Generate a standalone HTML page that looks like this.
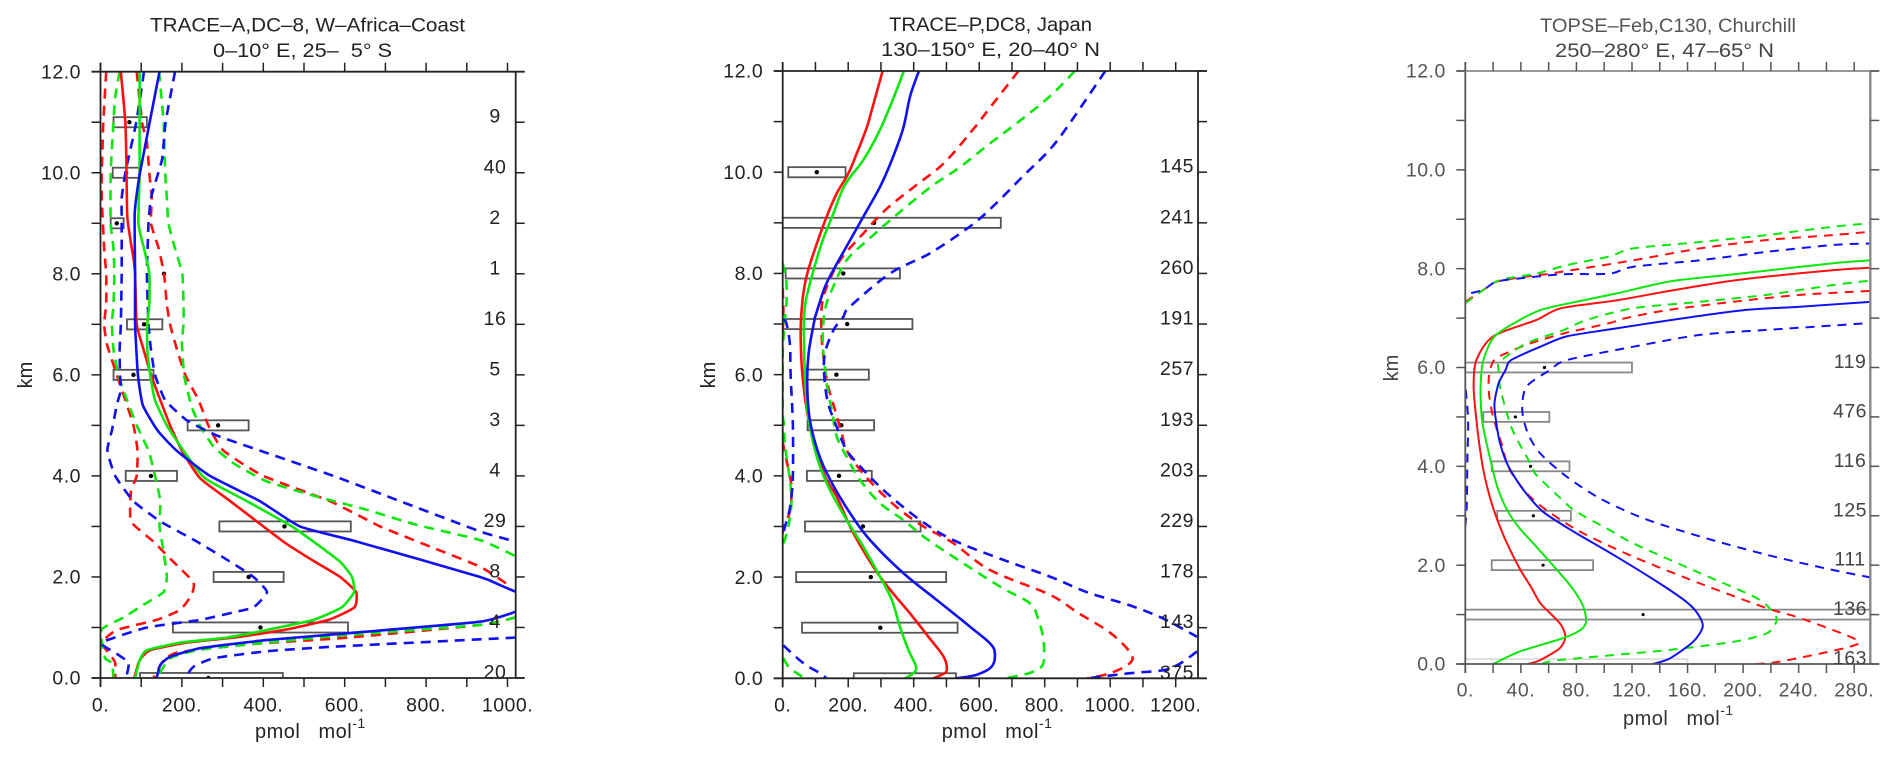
<!DOCTYPE html>
<html lang="en">
<head>
<meta charset="utf-8">
<title>Vertical profiles, pmol mol-1</title>
<style>
html,body{margin:0;padding:0;background:#fff;width:1897px;height:762px;overflow:hidden}
svg{display:block;filter:blur(0.35px)}
text{font-family:"Liberation Sans",sans-serif}
</style>
</head>
<body>
<svg id="chart" xmlns="http://www.w3.org/2000/svg" width="1897" height="762" viewBox="0 0 1897 762">
  <rect width="1897" height="762" fill="#fff"/>

  <g id="panel-1">
    <text x="150" y="31.7" font-size="19" fill="#222" textLength="315" lengthAdjust="spacingAndGlyphs">TRACE–A,DC–8, W–Africa–Coast</text>
    <text x="213" y="57" font-size="19" fill="#222" textLength="179" lengthAdjust="spacingAndGlyphs" xml:space="preserve">0–10° E, 25–  5° S</text>
    <text transform="translate(32 375) rotate(-90)" text-anchor="middle" font-size="20" fill="#222">km</text>
    <text x="255" y="738" font-size="20" letter-spacing="0.5" fill="#222">pmol&#160;&#160;&#160;mol<tspan dy="-10" font-size="14">-1</tspan></text>
  </g>

  <g id="panel-2">
    <text x="889" y="31" font-size="19" fill="#222" textLength="203" lengthAdjust="spacingAndGlyphs">TRACE–P,DC8, Japan</text>
    <text x="881" y="56" font-size="19" fill="#222" textLength="219" lengthAdjust="spacingAndGlyphs">130–150° E, 20–40° N</text>
    <text transform="translate(715 375) rotate(-90)" text-anchor="middle" font-size="20" fill="#222">km</text>
    <text x="941.7" y="738" font-size="20" letter-spacing="0.5" fill="#222">pmol&#160;&#160;&#160;mol<tspan dy="-10" font-size="14">-1</tspan></text>
  </g>

  <g id="panel-3">
    <text x="1540" y="32" font-size="19" fill="#555" textLength="256" lengthAdjust="spacingAndGlyphs">TOPSE–Feb,C130, Churchill</text>
    <text x="1555" y="57" font-size="19" fill="#444" textLength="219" lengthAdjust="spacingAndGlyphs">250–280° E, 47–65° N</text>
    <text transform="translate(1398 368) rotate(-90)" text-anchor="middle" font-size="20" fill="#444">km</text>
    <text x="1623" y="725" font-size="20" letter-spacing="0.5" fill="#333">pmol&#160;&#160;&#160;mol<tspan dy="-10" font-size="14">-1</tspan></text>
  </g>
</svg>

<script>
// ---------- shared tick labels ----------
const yTickKm = [0,1,2,3,4,5,6,7,8,9,10,11,12];
const yLabelKm = [0,2,4,6,8,10,12];

// ---------- Panel 1: TRACE-A ----------
const p1XTicks = [0,100,200,300,400,500,600,700,800,900,1000];
const p1XLabels = [0,200,400,600,800,1000];
const p1CountKm = [11,10,9,8,7,6,5,4,3,2,1,0];
const p1Counts = [9,40,2,1,16,5,3,4,29,8,4,20];
const p1BoxKm = [11,10,9,8,7,6,5,4,3,2,1,0];
const p1BoxLow = [32,30,25,156,65,32,214,62,292,278,178,97];
const p1BoxHigh = [114,95,57,156,152,130,364,188,615,450,608,448];
const p1BoxMean = [71,63,40,156,107,81,289,124,452,364,393,265];
const p1RedLow = [[12,14],[11,7],[10,3],[9.5,3],[9,6],[8.5,9],[8,14],[7.4,14],[7,9],[6.6,16],[6,40],[5.5,61],[5,81],[4.5,91],[4,89],[3.7,75],[3.1,75],[2.7,130],[2.3,179],[1.9,228],[1.65,224],[1.35,196],[1.15,138],[0.95,40],[0.7,3],[0.5,20],[0.3,36],[0,36]];
const p1RedMid = [[12,50],[11,61],[10,64],[9.1,66],[8.3,81],[8,85],[7,89],[6.5,106],[6,124],[5.5,147],[5,171],[4.5,200],[3.95,245],[3.5,319],[3,400],[2.65,458],[2.3,527],[2,589],[1.7,628],[1.4,624],[1.15,560],[0.95,450],[0.8,327],[0.7,212],[0.55,122],[0.35,96],[0,83]];
const p1RedHigh = [[12,89],[11,102],[10.6,114],[10,120],[9.5,126],[9,124],[8.5,143],[8,156],[7.4,163],[7,171],[6.5,188],[6,208],[5.5,241],[5,265],[4.5,302],[4,400],[3.5,564],[3,687],[2.6,810],[2.2,933],[1.82,1006]];
const p1RedHighLower = [[1.2,1020],[1.05,933],[0.8,609],[0.65,330],[0.5,188],[0.35,155],[0,130]];
const p1GreenLow = [[12,47],[11.5,36],[11,32],[10,25],[9,25],[8.5,32],[8,34],[7.4,32],[7,28],[6.5,32],[6,44],[5.5,65],[5,89],[4.5,118],[4,134],[3.5,147],[3,145],[2.5,155],[2,163],[1.7,155],[1.45,106],[1.2,57],[0.95,2],[0.4,11],[0.3,28],[0,32]];
const p1GreenMid = [[12,96],[10,96],[9,93],[8.5,107],[8,120],[7.4,120],[7,115],[6.5,115],[6,122],[5.5,134],[5,163],[4.5,204],[3.95,257],[3.5,360],[3,470],[2.6,540],[2.3,589],[2,618],[1.7,623],[1.4,593],[1.15,523],[0.95,409],[0.8,310],[0.7,196],[0.55,114],[0.35,96],[0,85]];
const p1GreenHigh = [[12,144],[11,155],[10,159],[9.5,163],[9,167],[8.5,183],[8,201],[7.4,204],[7,204],[6.63,200],[5.97,206],[5.37,224],[4.98,245],[4.58,278],[4.25,327],[3.89,409],[3.59,532],[3.33,654],[3.03,777],[2.73,933],[2.41,1020]];
const p1GreenHighLower = [[1.2,1020],[1.05,933],[0.85,605],[0.7,409],[0.56,245],[0.39,171],[0,138]];
const p1BlueLow = [[12,107],[11,88],[10.3,69],[10,61],[9.5,52],[9,52],[8,52],[7,50],[6.5,47],[6,48],[5.7,50],[5.4,40],[4.9,28],[4.5,17],[4,36],[3.5,81],[3.1,147],[2.7,237],[2.3,319],[2,376],[1.7,409],[1.4,376],[1.3,327],[1.15,245],[1,114],[0.7,3],[0.5,36],[0.3,69],[0,63]];
const p1BlueMid = [[12,145],[10,97],[9.2,84],[8,85],[7,85],[6,92],[5.4,104],[4.9,140],[4.5,187],[4,269],[3.5,392],[3,490],[2.7,630],[2,933],[1.84,981],[1.71,1020]];
const p1BlueMidLower = [[1.31,1020],[1.115,933],[0.885,605],[0.75,408],[0.59,245],[0.42,171],[0.26,147],[0,138]];
const p1BlueHigh = [[12,183],[11,160],[10.3,152],[10,142],[9.5,124],[9,118],[8,114],[7,118],[6.5,124],[6,134],[5.5,159],[5.1,212],[4.8,286],[4.5,392],[4,572],[3.5,736],[2.9,933],[2.73,1006]];
const p1BlueHighLower = [[0.8,1020],[0.765,933],[0.62,572],[0.53,409],[0.39,278],[0.22,228],[0,208]];

// ---------- Panel 2: TRACE-P ----------
const p2XTicks = [0,100,200,300,400,500,600,700,800,900,1000,1100,1200];
const p2XLabels = [0,200,400,600,800,1000,1200];
const p2CountKm = [10,9,8,7,6,5,4,3,2,1,0];
const p2Counts = [145,241,260,191,257,193,203,229,178,143,375];
const p2BoxKm = [10,9,8,7,6,5,4,3,2,1,0];
const p2BoxLow = [17,-5,9,-5,68,76,74,68,41,59,217];
const p2BoxHigh = [192,666,358,396,263,279,272,421,499,534,529];
const p2BoxMean = [104,279,185,197,164,179,172,245,269,298,null];
const p2RedLow = [[7.7,0],[7.1,2],[6.5,-3],[5,-3],[4.6,2],[4,22],[3.7,27],[3.3,22],[2.95,2],[2.7,-3]];
const p2RedMid = [[12,305],[11.23,272],[10.87,256],[10.37,226],[9.97,200],[9.58,165],[9.12,134],[8.49,99],[8,75],[7.6,63],[7.1,56],[6.69,55],[6,60],[5.24,75],[4.71,94],[3.99,129],[3.59,165],[2.87,216],[2.01,297],[1.28,389],[0.82,445],[0.43,491],[0.16,501],[0.07,485],[0,460]];
const p2RedHigh = [[12,720],[11.36,643],[10.77,572],[10.17,491],[9.75,409],[9.28,318],[8.79,246],[8.26,175],[7.73,134],[7.34,119],[6.75,119],[6.22,127],[5.76,139],[5.3,160],[4.84,180],[4.51,195],[4.12,236],[3.72,292],[3.33,358],[3,430],[2.67,521],[2.14,633],[1.65,816],[1.3,900],[0.9,1000],[0.5,1062],[0.3,1060],[0.1,1000],[0,930]];
const p2GreenLow = [[8.2,0],[7.9,10],[7.5,12],[7.1,7],[6.7,2],[6.4,0],[5.3,0],[5,4],[4.6,7],[4,20],[3.5,27],[3,17],[2.6,0]];
const p2GreenLowBottom = [[0.4,2],[0.2,22],[0,68]];
const p2GreenMid = [[12,370],[11.3,328],[10.77,292],[10.24,246],[9.75,190],[9.19,155],[8.6,119],[7.94,89],[7.48,71],[7.1,65],[6.69,65],[5.96,68],[5.17,78],[4.38,104],[3.79,139],[3.13,195],[2.6,246],[2.01,297],[1.55,333],[1.02,358],[0.56,384],[0.23,407],[0.1,399],[0,374]];
const p2GreenHigh = [[12,892],[11.5,816],[10.97,715],[10.57,633],[10.1,541],[9.7,450],[9.1,337],[8.7,267],[8.26,195],[7.67,150],[7.28,129],[6.69,122],[6.29,127],[5.83,134],[5.3,150],[4.78,165],[4.38,195],[3.92,236],[3.46,297],[3.13,368],[2.8,430],[2.4,521],[1.81,664],[1.48,755],[1.15,781],[0.76,796],[0.3,796],[0.13,765],[0.03,704],[0,674]];
const p2BlueLow = [[7.1,4],[7,12],[6.6,22],[6,24],[5,31],[4,31],[3.6,27],[3.3,20],[3,7],[2.8,0]];
const p2BlueLowBottom = [[0.65,2],[0.3,63],[0.1,114],[0,134]];
const p2BlueMid = [[12,416],[11.5,389],[10.87,368],[10.24,333],[9.71,297],[9.12,246],[8.66,206],[8.13,160],[7.73,129],[7.14,99],[7.08,97],[6.42,79],[5.76,75],[5.1,83],[4.45,109],[3.92,145],[3.26,206],[2.73,267],[2.08,368],[1.55,470],[1.02,572],[0.69,633],[0.49,648],[0.23,638],[0.07,592],[0,531]];
const p2BlueHigh = [[12,985],[11,880],[10.45,816],[9.93,735],[9.33,643],[8.93,572],[8.4,450],[8,328],[7.34,205],[7.14,185],[6.88,155],[6.42,129],[5.96,127],[5.43,139],[4.97,165],[4.51,195],[4.12,246],[3.66,318],[3.13,419],[2.73,521],[2.34,674],[2.01,816],[1.7,930],[1.44,1060],[1.18,1162],[0.82,1265]];
const p2BlueHighLower = [[0.53,1265],[0.29,1213],[0.16,1162],[0.1,1060],[0,930]];

// ---------- Panel 3: TOPSE ----------
const p3XTicks = [0,20,40,60,80,100,120,140,160,180,200,220,240,260,280];
const p3XLabels = [0,40,80,120,160,200,240,280];
const p3CountKm = [6,5,4,3,2,1,0];
const p3Counts = [119,476,116,125,111,136,163];
const p3BoxKm = [6,5,4,3,2,1,0];
const p3BoxLow = [-5,13,19,23,19,-5,-5];
const p3BoxHigh = [120,60.5,75,76,92,300,160];
const p3BoxMean = [57,36,47,49,56,128,null];
const p3RedLow = [[7.33,0],[7.57,13],[7.74,23],[7.87,51],[7.9,61],[8.17,121],[8.41,169],[8.58,217],[8.68,265],[8.75,292]];
const p3RedMid = [[0,45],[0.08,54],[0.32,68],[0.55,72],[0.79,69],[1.03,61],[1.23,54],[1.57,47],[1.94,39],[2.44,30],[2.85,24],[3.25,19],[3.79,14],[4.26,11],[4.94,8],[5.61,6],[6.15,8],[6.63,20],[6.96,51],[7.2,69],[7.36,109],[7.55,147],[7.74,188],[7.84,217],[7.97,265],[8.02,292]];
const p3RedHigh = [[0,209],[0.05,227],[0.35,277],[0.5,281],[0.93,241],[1.13,217],[1.63,169],[2.17,121],[2.72,80],[3.32,49],[3.93,32],[4.47,26],[5,20],[5.48,17],[5.82,17],[6.12,20],[6.26,27],[6.49,47],[6.69,71],[6.9,104],[6.99,114],[7.16,145],[7.33,193],[7.47,241],[7.55,292]];
const p3GreenLow = [[7.3,0],[7.57,13],[7.77,25],[7.9,51],[8.07,73],[8.25,104],[8.41,121],[8.54,169],[8.68,217],[8.85,265],[8.92,292]];
const p3GreenMid = [[0,20],[0.25,39],[0.52,70],[0.69,83],[0.86,87],[1.16,85],[1.5,78],[1.84,68],[2.38,51],[2.75,39],[3.12,30],[3.59,23],[4.26,17],[4.94,12],[5.61,11],[6.15,13],[6.63,21],[6.96,39],[7.16,54],[7.26,68],[7.5,109],[7.74,147],[7.87,188],[7.96,217],[8.11,265],[8.17,292]];
const p3GreenHigh = [[0,55],[0.08,68],[0.28,145],[0.45,193],[0.62,217],[0.86,224],[1.03,222],[1.33,210],[1.84,169],[2.44,121],[2.71,104],[3.08,80],[3.29,71],[3.83,51],[4,48],[4.67,35],[5.07,30],[5.61,25],[5.95,24],[6.12,25],[6.49,44],[6.76,71],[6.96,87],[7.2,121],[7.33,169],[7.47,217],[7.67,265],[7.76,292]];
const p3BlueLow = [[2.78,0],[3.18,1],[4.13,1.5],[4.94,2],[5.65,0],[6.5,-3],[7.3,-3],[7.47,0],[7.57,13],[7.74,23],[7.84,51],[7.89,73],[7.9,104],[8.04,121],[8.17,169],[8.34,217],[8.48,265],[8.51,292]];
const p3BlueMid = [[0,135],[0.11,147],[0.45,164],[0.76,171],[1.03,167],[1.26,159],[1.63,140],[2.17,109],[2.68,78],[3.08,56],[3.52,42],[4,31],[4.47,25],[4.94,22],[5.28,21],[5.68,24],[5.95,29],[6.15,33],[6.42,54],[6.63,73],[6.77,104],[6.99,155],[7.16,200],[7.23,241],[7.33,292]];
const p3BlueHigh = [[1.75,292],[1.9,265],[2.21,217],[2.58,169],[2.95,128],[3.35,97],[3.79,73],[4.26,54],[4.67,45],[5.14,41],[5.61,44],[5.95,61],[6.15,73],[6.42,121],[6.66,169],[6.76,217],[6.9,292]];

// ---------- panel layout (geometry + references to the data) ----------
const RED = '#ff1010', GREEN = '#0ee60e', BLUE = '#1010f0';
const panels = [
  {id:'panel-1', left:100.5, right:515.7, top:71.7, bottom:678, pxPerUnit:0.407,
   xTicks:p1XTicks, xLabels:p1XLabels, labelY:711.7, countKm:p1CountKm, counts:p1Counts, countX:495,
   boxKm:p1BoxKm, boxLow:p1BoxLow, boxHigh:p1BoxHigh, boxMean:p1BoxMean,
   axisColor:'#222', edgeColor:'#222', boxColor:'#555', textColor:'#222', lineWidth:2.6, dash:'10 7', smooth:0.5,
   series:[
    ['red-low',RED,1,p1RedLow],['red-high',RED,1,p1RedHigh],['red-high-lower',RED,1,p1RedHighLower],
    ['green-low',GREEN,1,p1GreenLow],['green-high',GREEN,1,p1GreenHigh],['green-high-lower',GREEN,1,p1GreenHighLower],
    ['blue-low',BLUE,1,p1BlueLow],['blue-high',BLUE,1,p1BlueHigh],['blue-high-lower',BLUE,1,p1BlueHighLower],
    ['red-median',RED,0,p1RedMid],['green-median',GREEN,0,p1GreenMid],['blue-median',BLUE,0,p1BlueMid],['blue-median-lower',BLUE,0,p1BlueMidLower]]},
  {id:'panel-2', left:782.7, right:1198, top:71, bottom:678.3, pxPerUnit:0.3275,
   xTicks:p2XTicks, xLabels:p2XLabels, labelY:711.7, countKm:p2CountKm, counts:p2Counts, countX:1177,
   boxKm:p2BoxKm, boxLow:p2BoxLow, boxHigh:p2BoxHigh, boxMean:p2BoxMean,
   axisColor:'#222', edgeColor:'#222', boxColor:'#555', textColor:'#222', lineWidth:2.6, dash:'10 7', smooth:1,
   series:[
    ['red-low',RED,1,p2RedLow],['red-high',RED,1,p2RedHigh],
    ['green-low',GREEN,1,p2GreenLow],['green-low-bottom',GREEN,1,p2GreenLowBottom],['green-high',GREEN,1,p2GreenHigh],
    ['blue-low',BLUE,1,p2BlueLow],['blue-low-bottom',BLUE,1,p2BlueLowBottom],['blue-high',BLUE,1,p2BlueHigh],['blue-high-lower',BLUE,1,p2BlueHighLower],
    ['red-median',RED,0,p2RedMid],['green-median',GREEN,0,p2GreenMid],['blue-median',BLUE,0,p2BlueMid]]},
  {id:'panel-3', left:1465.3, right:1870.3, top:71, bottom:664, pxPerUnit:1.389,
   xTicks:p3XTicks, xLabels:p3XLabels, labelY:696.7, countKm:p3CountKm, counts:p3Counts, countX:1850,
   boxKm:p3BoxKm, boxLow:p3BoxLow, boxHigh:p3BoxHigh, boxMean:p3BoxMean,
   axisColor:'#555', edgeColor:'#888', boxColor:'#888', textColor:'#555', lineWidth:2, dash:'9 7', smooth:0.8,
   series:[
    ['red-low',RED,1,p3RedLow],['red-high',RED,1,p3RedHigh],
    ['green-low',GREEN,1,p3GreenLow],['green-high',GREEN,1,p3GreenHigh],
    ['blue-low',BLUE,1,p3BlueLow],['blue-high',BLUE,1,p3BlueHigh],
    ['red-median',RED,0,p3RedMid],['green-median',GREEN,0,p3GreenMid],['blue-median',BLUE,0,p3BlueMid]]}
];

const SVGNS = 'http://www.w3.org/2000/svg';
const TICK = 9;

function drawLine(parent, x1, y1, x2, y2, color, width, name) {
  const el = document.createElementNS(SVGNS, 'line');
  
  
  el.setAttribute('x1', x1);
  el.setAttribute('y1', y1);
  el.setAttribute('x2', x2);
  el.setAttribute('y2', y2);
  el.setAttribute('stroke', color);
  el.setAttribute('stroke-width', width);
  parent.appendChild(el);
}

function drawLabel(parent, x, y, anchor, color, str, name) {
  const el = document.createElementNS(SVGNS, 'text');
  
  
  el.setAttribute('x', x);
  el.setAttribute('y', y);
  el.setAttribute('text-anchor', anchor);
  el.setAttribute('font-size', '19.5');
  el.setAttribute('letter-spacing', '0.5');
  el.setAttribute('fill', color);
  el.textContent = str;
  parent.appendChild(el);
}

// Catmull-Rom path through screen points; k scales the tangent strength.
function curvePath(pts, k) {
  let d = 'M' + pts[0][0].toFixed(1) + ' ' + pts[0][1].toFixed(1);
  for (let i = 0; i < pts.length - 1; i++) {
    const p0 = pts[Math.max(i - 1, 0)];
    const p1 = pts[i];
    const p2 = pts[i + 1];
    const p3 = pts[Math.min(i + 2, pts.length - 1)];
    const c1x = p1[0] + (p2[0] - p0[0]) * k / 6;
    const c1y = p1[1] + (p2[1] - p0[1]) * k / 6;
    const c2x = p2[0] - (p3[0] - p1[0]) * k / 6;
    const c2y = p2[1] - (p3[1] - p1[1]) * k / 6;
    d += 'C' + c1x.toFixed(1) + ' ' + c1y.toFixed(1) + ' ' + c2x.toFixed(1) + ' ' + c2y.toFixed(1) + ' ' + p2[0].toFixed(1) + ' ' + p2[1].toFixed(1);
  }
  return d;
}

panels.forEach(function (p, index) {
  const g = document.getElementById(p.id);
  const xScale = function (v) { return p.left + v * p.pxPerUnit; };
  const yScale = function (km) { return p.bottom - km * (p.bottom - p.top) / 12; };

  // clip for plot area
  const clipId = 'clip-' + index;
  const defs = document.createElementNS(SVGNS, 'defs');
  const clip = document.createElementNS(SVGNS, 'clipPath');
  clip.setAttribute('id', clipId);
  const clipRect = document.createElementNS(SVGNS, 'rect');
  clipRect.setAttribute('x', p.left);
  clipRect.setAttribute('y', p.top);
  clipRect.setAttribute('width', p.right - p.left);
  clipRect.setAttribute('height', p.bottom - p.top);
  clip.appendChild(clipRect);
  defs.appendChild(clip);
  g.appendChild(defs);

  // range boxes and mean markers
  const boxes = document.createElementNS(SVGNS, 'g');
  
  
  boxes.setAttribute('clip-path', 'url(#' + clipId + ')');
  g.appendChild(boxes);
  p.boxKm.forEach(function (km, i) {
    const x1 = xScale(p.boxLow[i]);
    const x2 = xScale(p.boxHigh[i]);
    if (x2 > x1) {
      const rect = document.createElementNS(SVGNS, 'rect');
      
      
      rect.setAttribute('x', x1);
      rect.setAttribute('y', yScale(km + 0.1));
      rect.setAttribute('width', x2 - x1);
      rect.setAttribute('height', yScale(km - 0.1) - yScale(km + 0.1));
      rect.setAttribute('fill', 'none');
      rect.setAttribute('stroke', km === 0 && index === 2 ? '#ddd' : p.boxColor);
      rect.setAttribute('stroke-width', '1.8');
      boxes.appendChild(rect);
    }
    if (p.boxMean[i] !== null) {
      const dot = document.createElementNS(SVGNS, 'circle');
      
      
      dot.setAttribute('cx', xScale(p.boxMean[i]));
      dot.setAttribute('cy', yScale(km));
      dot.setAttribute('r', index === 2 ? '1.6' : '2.2');
      dot.setAttribute('fill', '#000');
      boxes.appendChild(dot);
    }
  });

  // curves
  const curves = document.createElementNS(SVGNS, 'g');
  
  
  curves.setAttribute('clip-path', 'url(#' + clipId + ')');
  g.appendChild(curves);
  p.series.forEach(function (s) {
    const line = document.createElementNS(SVGNS, 'path');
    
    
    const screenPts = s[3].map(function (pt) {
      return [xScale(pt[1]), yScale(pt[0])];
    });
    line.setAttribute('d', curvePath(screenPts, p.smooth));
    line.setAttribute('fill', 'none');
    line.setAttribute('stroke', s[1]);
    line.setAttribute('stroke-width', p.lineWidth);
    line.setAttribute('stroke-linejoin', 'round');
    if (s[2]) {
      line.setAttribute('stroke-dasharray', p.dash);
    }
    curves.appendChild(line);
  });

  // frame
  drawLine(g, p.left, p.top - TICK, p.left, p.bottom + TICK, p.axisColor, 1.8, 'y-axis-line');
  drawLine(g, p.right, p.top, p.right, p.bottom, p.edgeColor, index === 2 ? 2.4 : 1.8, 'right-axis-line');
  drawLine(g, p.left - TICK, p.top, p.right + TICK, p.top, index === 2 ? p.edgeColor : p.axisColor, 1.8, 'top-axis-line');
  drawLine(g, p.left - TICK, p.bottom, p.right + TICK, p.bottom, p.axisColor, 1.8, 'x-axis-line');

  // y ticks, both sides
  yTickKm.forEach(function (km) {
    const y = yScale(km);
    drawLine(g, p.left - TICK, y, p.left, y, p.axisColor, 1.5, 'y-tick');
    drawLine(g, p.right, y, p.right + TICK, y, p.axisColor, 1.5, 'right-tick');
  });
  yLabelKm.forEach(function (km) {
    drawLabel(g, p.left - 19.5, yScale(km) + 6.7, 'end', p.textColor, km.toFixed(1), 'y-tick-label');
  });

  // x ticks, top and bottom
  p.xTicks.forEach(function (v) {
    const x = xScale(v);
    drawLine(g, x, p.top - TICK, x, p.top, p.axisColor, 1.5, 'top-tick');
    drawLine(g, x, p.bottom, x, p.bottom + TICK, p.axisColor, 1.5, 'x-tick');
  });
  p.xLabels.forEach(function (v) {
    drawLabel(g, xScale(v), p.labelY, 'middle', p.textColor, v + '.', 'x-tick-label');
  });

  // sample counts at the right
  p.countKm.forEach(function (km, i) {
    drawLabel(g, p.countX, yScale(km) + 0.5, 'middle', index === 2 ? '#444' : '#222', String(p.counts[i]), 'sample-count-label');
  });
});
</script>
</body>
</html>
